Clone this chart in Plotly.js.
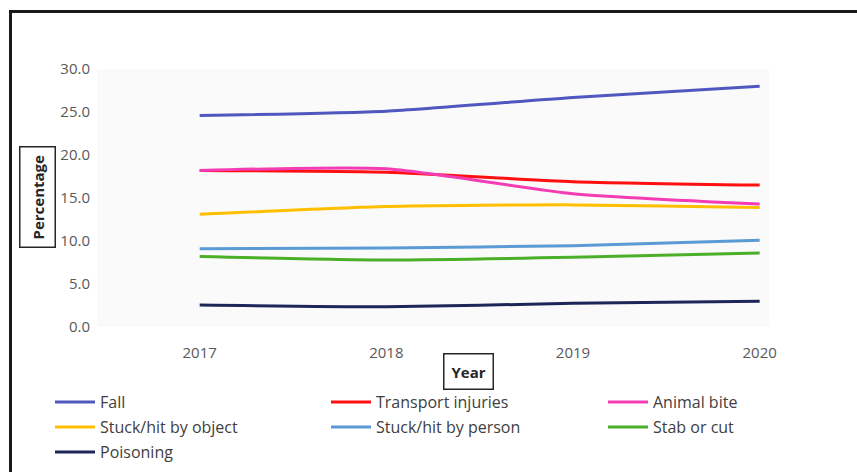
<!DOCTYPE html>
<html>
<head>
<meta charset="utf-8">
<script src="https://cdn.plot.ly/plotly-3.0.1.min.js"></script>
<style>
  html, body { margin: 0; padding: 0; background: #ffffff; }
  #wrap { position: relative; width: 857px; height: 472px; overflow: hidden; }
  #chart { position: absolute; left: 0; top: 0; width: 857px; height: 472px; }
  #frame { position: absolute; left: 9px; top: 10px; width: 900px; height: 500px;
           border-left: 3px solid #1a1a1a; border-top: 3px solid #1a1a1a; pointer-events: none; }
</style>
</head>
<body>
<div id="wrap">
  <div id="chart"></div>
  <div id="frame"></div>
</div>
<script>
const years = [2017, 2018, 2019, 2020];
const yearLabels = ["2017", "2018", "2019", "2020"];

const fall        = [24.6, 25.1, 26.7, 28.0];
const transport   = [18.2, 18.0, 16.9, 16.5];
const animalBite  = [18.2, 18.4, 15.5, 14.3];
const hitObject   = [13.1, 14.0, 14.2, 13.9];
const hitPerson   = [9.1, 9.2, 9.45, 10.1];
const stabCut     = [8.2, 7.8, 8.1, 8.6];
const poisoning   = [2.55, 2.35, 2.75, 3.0];

const seriesNames = ["Fall", "Transport injuries", "Animal bite",
                     "Stuck/hit by object", "Stuck/hit by person", "Stab or cut", "Poisoning"];
const seriesData = [fall, transport, animalBite, hitObject, hitPerson, stabCut, poisoning];
const seriesColors = ["#5058c0", "#ff1010", "#f43cb4", "#ffbe00", "#5b9bd5", "#4caf2a", "#1e2658"];

const legendIds = ["legend", "legend2", "legend3", "legend4", "legend5", "legend6", "legend7"];

const traces = seriesNames.map((n, i) => ({
  type: "scatter",
  mode: "lines",
  name: n,
  x: years,
  y: seriesData[i],
  line: { color: seriesColors[i], width: 3, shape: "spline", smoothing: 0.6 },
  legend: legendIds[i]
}));

const L = 97, R = 769, T = 69, B = 327;
const W = R - L, H = B - T;
const px = v => (v - L) / W;
const py = v => (B - v) / H;

// legend grid (pixel anchors): columns and rows
const colX = [50, 326, 603];
const rowY = [402, 427, 452];

const layout = {
  width: 857,
  height: 472,
  margin: { l: L, r: 857 - R, t: T, b: 472 - B, autoexpand: false },
  paper_bgcolor: "#ffffff",
  plot_bgcolor: "#fafafa",
  font: { family: "Open Sans, sans-serif", color: "#595959" },
  xaxis: {
    type: "linear",
    range: [2016.45, 2020.05],
    tickvals: years,
    ticktext: yearLabels,
    showgrid: false,
    zeroline: false,
    showline: false,
    ticks: "",
    ticklabelstandoff: 15,
    tickfont: { family: "Open Sans, sans-serif", size: 15, color: "#595959" },
    fixedrange: true
  },
  yaxis: {
    range: [0, 30],
    dtick: 5,
    tick0: 0,
    tickformat: ".1f",
    showgrid: false,
    zeroline: false,
    showline: false,
    ticks: "",
    ticklabelstandoff: 6,
    tickfont: { family: "Open Sans, sans-serif", size: 15, color: "#595959" },
    fixedrange: true
  },
  showlegend: true,
  annotations: [
    {
      text: "<b>Percentage</b>",
      xref: "paper", yref: "paper",
      x: px(37), y: py(197),
      xanchor: "center", yanchor: "middle",
      textangle: -90,
      showarrow: false,
      font: { family: "Open Sans, sans-serif", size: 15, color: "#262626" },
      bordercolor: "#262626", borderwidth: 1.5, borderpad: 7,
      bgcolor: "#ffffff"
    },
    {
      text: "<b>Year</b>",
      xref: "paper", yref: "paper",
      x: px(468), y: py(371),
      xanchor: "center", yanchor: "middle",
      showarrow: false,
      font: { family: "Open Sans, sans-serif", size: 15, color: "#262626" },
      bordercolor: "#262626", borderwidth: 1.5, borderpad: 7,
      bgcolor: "#ffffff"
    }
  ]
};

legendIds.forEach((id, i) => {
  layout[id] = {
    orientation: "h",
    xanchor: "left",
    yanchor: "middle",
    x: px(colX[i % 3]),
    y: py(rowY[Math.floor(i / 3)]),
    itemwidth: 40,
    bgcolor: "rgba(0,0,0,0)",
    font: { family: "Open Sans, sans-serif", size: 16, color: "#404040" },
    itemclick: false
  };
});

Plotly.newPlot("chart", traces, layout, { displayModeBar: false, staticPlot: true });
</script>
</body>
</html>
